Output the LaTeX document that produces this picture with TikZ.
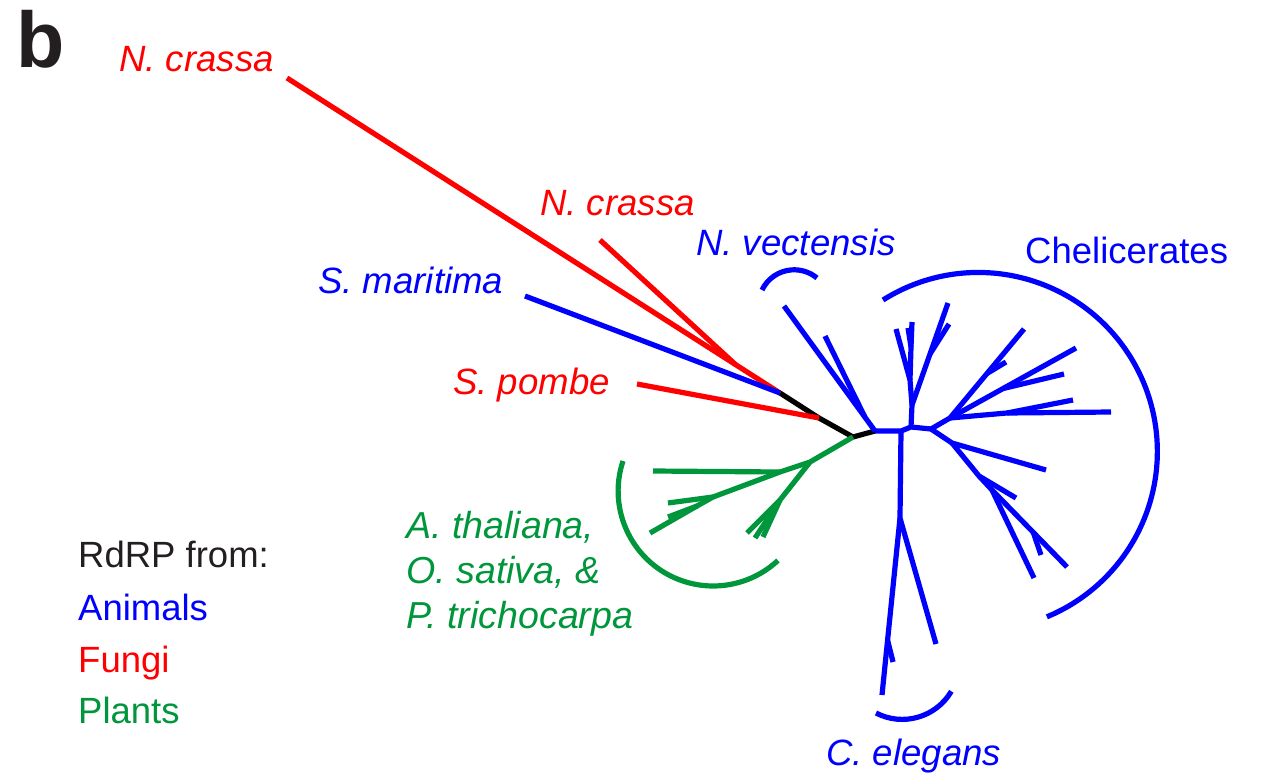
\documentclass[tikz,border=0pt]{standalone}
\usepackage{fontspec}
\setmainfont{Liberation Sans}
\usetikzlibrary{calc}
\definecolor{tblue}{RGB}{0,0,255}
\definecolor{tred}{RGB}{255,0,0}
\definecolor{tgreen}{RGB}{0,150,60}
\definecolor{tdark}{RGB}{35,31,32}
\tikzset{
  br/.style={line width=5.2pt, line join=round},
  bluebr/.style={br, tblue},
  redbr/.style={br, tred},
  greenbr/.style={br, tgreen},
  blackbr/.style={br, black},
  lab/.style={anchor=base west, inner sep=0pt, font=\fontsize{36.5}{43}\selectfont},
  spec/.style={lab, font=\fontsize{36.6}{43}\selectfont\itshape},
  gspec/.style={lab, font=\fontsize{37.6}{43}\selectfont\itshape},
}
\begin{document}
\begin{tikzpicture}[x=1pt,y=-1pt]
\useasboundingbox (0,0) rectangle (1264,773);
% ---- backbone (black)
\coordinate (r1) at (780,393);
\coordinate (r2) at (819,418);
\coordinate (r3) at (853,437);
\coordinate (r4) at (875,431);
\draw[blackbr] (r1) -- (r2) -- (r3) -- (r4);
% ---- fungi / S. maritima
\coordinate (nc1) at (287,78);
\coordinate (nc2) at (600,240);
\coordinate (jnc) at ($(nc1)!0.91!(r1)$);
\coordinate (sm) at (525,296);
\coordinate (sp) at (637,384);
\draw[redbr] (nc1) -- (r1);
\draw[redbr] (nc2) -- (jnc);
\draw[bluebr] (sm) -- (r1);
\draw[redbr] (sp) -- (r2);
% ---- plants
\coordinate (g1) at (810,462);
\coordinate (g2) at (780,472);
\coordinate (gh) at (653,471);
\coordinate (g3) at (713,497);
\coordinate (g4) at (697,506);
\coordinate (g5) at (650,533);
\coordinate (gt1) at (668,503);
\coordinate (gt2) at (668,517);
\coordinate (g6) at (780,500);
\coordinate (gl1) at (747,533);
\coordinate (gl2) at (755,538);
\coordinate (gl3) at (763,537);
\draw[greenbr] (r3) -- (g1) -- (g2) -- (g3) -- (g4) -- (g5);
\draw[greenbr] (g2) -- (gh);
\draw[greenbr] (g3) -- (gt1);
\draw[greenbr] (g4) -- (gt2);
\draw[greenbr] (g1) -- (g6) -- (gl1);
\draw[greenbr] (g6) -- (gl2);
\draw[greenbr] (g6) -- (gl3);
\draw[greenbr] (623,461) arc[start angle=198.4, end angle=47, radius=95];
% ---- animals
\coordinate (lb1) at (784,306);
\coordinate (lb2) at ($(r4)!0.11!(lb1)$);
\coordinate (lb3) at (825,336);
\draw[bluebr] (r4) -- (lb1);
\draw[bluebr] (lb2) -- (lb3);
\coordinate (b1) at (901,431);
\coordinate (b2) at (911,427);
\coordinate (b3) at (931,429);
\draw[bluebr] (r4) -- (b1) -- (b2) -- (b3);
% C. elegans
\coordinate (b4) at (900,518);
\coordinate (ce1) at (936,644);
\coordinate (ce2) at (882,695);
\coordinate (b5) at ($(b4)!0.69!(ce2)$);
\coordinate (ce3) at (893,662);
\draw[bluebr] (b1) -- (b4) -- (ce1);
\draw[bluebr] (b4) -- (ce2);
\draw[bluebr] (b5) -- (ce3);
\draw[bluebr] (876,713) arc[start angle=117.4, end angle=30.5, radius=57];
% upper chelicerates
\coordinate (c1) at (912,405);
\coordinate (c2) at (948,303);
\coordinate (c3) at ($(c1)!0.5!(c2)$);
\coordinate (c3t) at (949,324);
\coordinate (c4) at (910,380);
\coordinate (c4t) at (896,329);
\coordinate (c5) at (911,347);
\coordinate (c5t) at (912,322);
\coordinate (c5u) at (908,328);
\draw[bluebr] (b2) -- (c1) -- (c2);
\draw[bluebr] (c3) -- (c3t);
\draw[bluebr] (c1) -- (c4) -- (c4t);
\draw[bluebr] (c4) -- (c5) -- (c5t);
\draw[bluebr] (c5) -- (c5u);
% right fan
\coordinate (d1) at (950,418);
\coordinate (d2) at (1024,329);
\coordinate (d2j) at ($(d1)!0.5!(d2)$);
\coordinate (d2t) at (1006,362);
\coordinate (d3) at (1076,348);
\coordinate (d3j) at ($(d1)!0.42!(d3)$);
\coordinate (d3t) at (1064,374);
\coordinate (d4) at (1111,412);
\coordinate (d4j) at (1007,413);
\coordinate (d4t) at (1073,400);
\draw[bluebr] (b3) -- (d1) -- (d2);
\draw[bluebr] (d2j) -- (d2t);
\draw[bluebr] (d1) -- (d3);
\draw[bluebr] (d3j) -- (d3t);
\draw[bluebr] (d1) -- (d4j) -- (d4);
\draw[bluebr] (d4j) -- (d4t);
% lower fan
\coordinate (e1) at (952,443);
\coordinate (e1t) at (1046,470);
\coordinate (e2) at (979,476);
\coordinate (e2t) at (1016,498);
\coordinate (e3) at (992,490);
\coordinate (e3a) at (1034,578);
\coordinate (e3b) at (1067,567);
\coordinate (e3j) at ($(e3)!0.55!(e3b)$);
\coordinate (e3t) at (1041,555);
\draw[bluebr] (b3) -- (e1) -- (e1t);
\draw[bluebr] (e1) -- (e2) -- (e2t);
\draw[bluebr] (e2) -- (e3) -- (e3a);
\draw[bluebr] (e3) -- (e3b);
\draw[bluebr] (e3j) -- (e3t);
% arcs
\draw[bluebr] (883,300) arc[start angle=-122.2, end angle=67.5, radius=179];
\draw[bluebr] (762,290) arc[start angle=-154.3, end angle=-50.3, radius=35.7];
% ---- labels
\node[anchor=base west, inner sep=0pt, text=tdark, font=\fontsize{79}{90}\selectfont\bfseries] (lb) at (16,68) {b};
\node[spec, text=tred] (tnc1) at (119,72) {N. crassa};
\node[spec, text=tred] (tnc2) at (540,215) {N. crassa};
\node[spec, text=tblue] (tnv) at (696,255) {N. vectensis};
\node[spec, text=tblue] (tsm) at (318,293) {S. maritima};
\node[spec, text=tred] (tsp) at (453,394) {S. pombe};
\node[lab, text=tblue] (tch) at (1025,263) {Chelicerates};
\node[spec, text=tblue] (tce) at (826,765) {C. elegans};
\node[gspec, text=tgreen] (tp1) at (406,538) {A. thaliana,};
\node[gspec, text=tgreen] (tp2) at (406,583) {O. sativa, \&};
\node[gspec, text=tgreen] (tp3) at (406,628) {P. trichocarpa};
\node[lab, text=tdark] (tl0) at (78,567) {RdRP from:};
\node[lab, text=tblue] (tl1) at (78,620) {Animals};
\node[lab, text=tred] (tl2) at (78,672) {Fungi};
\node[lab, text=tgreen] (tl3) at (78,723) {Plants};
\end{tikzpicture}
\end{document}
